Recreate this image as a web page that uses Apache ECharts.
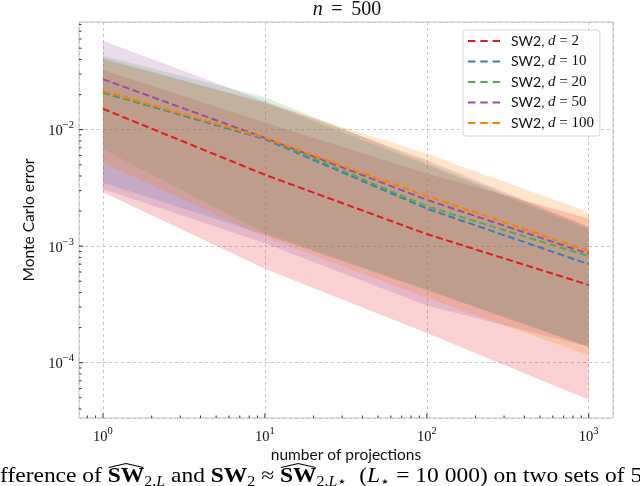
<!DOCTYPE html>
<html><head><meta charset="utf-8">
<script src="https://cdn.jsdelivr.net/npm/echarts@6/dist/echarts.min.js"></script>
<style>html,body{margin:0;padding:0;background:#fff}#c{width:640px;height:486px}</style>
</head><body><div id="c"></div>
<script>
// ---------------- data ----------------
const projections = [1, 10, 100, 1000];
const dims = [2, 10, 20, 50, 100];
const seriesNames = ['d2', 'd10', 'd20', 'd50', 'd100'];
const colors = ['#e41a1c', '#377eb8', '#4daf4a', '#984ea3', '#ff7f00'];

const meanD2   = [0.0151, 0.0041, 0.00127, 0.000464];
const meanD10  = [0.0208, 0.0083, 0.0021, 0.00070];
const meanD20  = [0.0210, 0.0085, 0.0022, 0.00082];
const meanD50  = [0.0271, 0.0085, 0.0025, 0.00086];
const meanD100 = [0.0216, 0.0085, 0.0027, 0.00091];

const lowD2    = [0.0029, 0.00064, 0.00018, 0.000048];
const highD2   = [0.0325, 0.0115, 0.0042, 0.00173];
const lowD10   = [0.0035, 0.00125, 0.00042, 0.000137];
const highD10  = [0.0410, 0.0170, 0.0050, 0.00140];
const lowD20   = [0.0068, 0.0013, 0.00042, 0.000137];
const highD20  = [0.0430, 0.0190, 0.0052, 0.00145];
const lowD50   = [0.0031, 0.00106, 0.00031, 0.000137];
const highD50  = [0.0580, 0.0175, 0.0055, 0.00147];
const lowD100  = [0.0052, 0.0012, 0.00036, 0.000116];
const highD100 = [0.0400, 0.0170, 0.0062, 0.00195];

const xTickLabels = ['10^0', '10^1', '10^2', '10^3'];
const yTickLabels = ['10^-4', '10^-3', '10^-2'];

const means = [meanD2, meanD10, meanD20, meanD50, meanD100];
const lows  = [lowD2, lowD10, lowD20, lowD50, lowD100];
const highs = [highD2, highD10, highD20, highD50, highD100];

// ---------------- axis extents (matplotlib-style margins) ----------------
const xMin = Math.pow(10, -0.148), xMax = Math.pow(10, 3.15);
const yMin = Math.pow(10, -4.475), yMax = Math.pow(10, -1.076);

const SERIF = '"Liberation Serif", "DejaVu Serif", serif';
const SANS = 'Lato, "Open Sans", sans-serif';

function isPow10(v) { const e = Math.log10(v); return Math.abs(e - Math.round(e)) < 1e-6; }
function expLabel(v) {
  const e = Math.round(Math.log10(v));
  return '{b|10}{s|' + (e < 0 ? '\u2212' + (-e) : e) + '}';
}
const tickRich = {
  b: { fontFamily: SERIF, fontSize: 14.5, color: '#111', lineHeight: 19, verticalAlign: 'bottom' },
  s: { fontFamily: SERIF, fontSize: 10.5, color: '#111', lineHeight: 11, verticalAlign: 'top' }
};

// minor / major tick lists (axis decoration)
const xMajor = [], xMinor = [], yMajor = [], yMinor = [];
for (let k = -5; k <= 4; k++) {
  const p = Math.pow(10, k);
  if (p >= xMin && p <= xMax) xMajor.push(p);
  if (p >= yMin && p <= yMax) yMajor.push(p);
  for (let m = 2; m <= 9; m++) {
    const v = m * p;
    if (v >= xMin && v <= xMax) xMinor.push(v);
    if (v >= yMin && v <= yMax) yMinor.push(v);
  }
}
const tickData = [];
xMajor.forEach(v => tickData.push([v, yMin, 0]));
xMinor.forEach(v => tickData.push([v, yMin, 1]));
yMajor.forEach(v => tickData.push([xMin, v, 2]));
yMinor.forEach(v => tickData.push([xMin, v, 3]));

const series = [];
// bands
for (let i = 0; i < 5; i++) {
  const lo = lows[i], hi = highs[i], col = colors[i];
  series.push({
    type: 'custom', name: 'band_' + seriesNames[i], silent: true, z: 2,
    data: projections.map((x, j) => [x, lo[j], hi[j]]),
    encode: { x: 0, y: [1, 2] },
    renderItem: function (params, api) {
      if (params.dataIndex !== 0) return;
      const pts = [];
      for (let j = 0; j < projections.length; j++) pts.push(api.coord([projections[j], hi[j]]));
      for (let j = projections.length - 1; j >= 0; j--) pts.push(api.coord([projections[j], lo[j]]));
      return { type: 'polygon', shape: { points: pts }, style: { fill: col, opacity: 0.2 } };
    }
  });
}
// mean lines
for (let i = 0; i < 5; i++) {
  series.push({
    type: 'line', name: seriesNames[i], z: 5,
    data: projections.map((x, j) => [x, means[i][j]]),
    symbol: 'none', showSymbol: false, silent: true,
    color: colors[i],
    lineStyle: { color: colors[i], width: 2, type: [7, 3.5] }
  });
}
// axis ticks (inside, left + bottom, matplotlib-like)
series.push({
  type: 'custom', name: 'ticks', silent: true, z: 10, clip: false,
  data: tickData, encode: { x: 0, y: 1 },
  renderItem: function (params, api) {
    const p = api.coord([api.value(0), api.value(1)]);
    const k = api.value(2);
    const len = (k === 0 || k === 2) ? 4.5 : 2.5;
    const shape = k < 2 ? { x1: p[0], y1: p[1], x2: p[0], y2: p[1] - len }
                        : { x1: p[0], y1: p[1], x2: p[0] + len, y2: p[1] };
    return { type: 'line', shape: shape, style: { stroke: '#222', lineWidth: 0.9 } };
  }
});

const legendLabels = {};
seriesNames.forEach((n, i) => legendLabels[n] = '{s|SW2, }{i|d}{m| = ' + dims[i] + '}');

// ---------------- caption layout ----------------
const capPieces = [
  ['n', 'fference of '], ['b', 'SW', true], ['sub', '2,'], ['subi', 'L'], ['n', ' and '],
  ['b', 'SW'], ['sub', '2'], ['n', ' \u2248 '], ['b', 'SW', true], ['sub', '2,'], ['subi', 'L'], ['sub', '\u22c6'],
  ['n', '  ('], ['ni', 'L'], ['sub', '\u22c6'], ['n', ' = 10 000) on two sets of 5']
];
const mctx = document.createElement('canvas').getContext('2d');
function fontsFor(s) {
  const ss = s * 0.68;
  return {
    n: s + 'px ' + SERIF, ni: 'italic ' + s + 'px ' + SERIF, b: 'bold ' + s + 'px ' + SERIF,
    sub: ss + 'px ' + SERIF, subi: 'italic ' + ss + 'px ' + SERIF
  };
}
function measureCaption(s) {
  const f = fontsFor(s);
  let x = 0; const hats = [];
  capPieces.forEach(p => { mctx.font = f[p[0]]; const w = mctx.measureText(p[1]).width; if (p[2]) hats.push([x, x + w]); x += w; });
  return { width: x, hats: hats };
}
const capStretch = 1.13;             // CM-like wider glyphs
const capTarget = 642;
const capSize = 19 * capTarget / (measureCaption(19).width * capStretch);
const capInfo = measureCaption(capSize);
const subSize = capSize * 0.68;
let capText = '';
capPieces.forEach(p => { capText += '{' + p[0] + '|' + p[1] + '}'; });
const capY = 477;
const capLH = Math.round(capSize * 1.15);
const graphics = [
  { type: 'text', x: 347, y: 10, style: { text: '{i|n}{e|=}{r|500}', align: 'center', verticalAlign: 'middle',
      rich: { i: { fontFamily: SERIF, fontStyle: 'italic', fontSize: 20, fill: '#111' },
              e: { fontFamily: SERIF, fontSize: 20, fill: '#111', padding: [0, 8.5, 0, 8.5] },
              r: { fontFamily: SERIF, fontSize: 20, fill: '#111' } } } },
  { type: 'text', x: 28.5, y: 220, rotation: Math.PI / 2,
    style: { text: 'Monte Carlo error', font: '15.5px ' + SANS, fill: '#111', align: 'center', verticalAlign: 'middle' } },
  { type: 'text', x: 346, y: 455, style: { text: 'number of projections', font: '15.5px ' + SANS, fill: '#111', align: 'center', verticalAlign: 'middle' } },
  { type: 'text', x: 0, y: capY, scaleX: capStretch, style: { text: capText, verticalAlign: 'middle', align: 'left',
      rich: {
        n: { fontFamily: SERIF, fontSize: capSize, lineHeight: capLH, fill: '#000' },
        ni: { fontFamily: SERIF, fontStyle: 'italic', fontSize: capSize, lineHeight: capLH, fill: '#000' },
        b: { fontFamily: SERIF, fontWeight: 'bold', fontSize: capSize, lineHeight: capLH, fill: '#000' },
        sub: { fontFamily: SERIF, fontSize: subSize, lineHeight: subSize, verticalAlign: 'bottom', fill: '#000' },
        subi: { fontFamily: SERIF, fontStyle: 'italic', fontSize: subSize, lineHeight: subSize, verticalAlign: 'bottom', fill: '#000' }
      } } }
];
capInfo.hats.forEach(h => {
  const a = h[0] * capStretch, b = h[1] * capStretch;
  graphics.push({ type: 'polyline', shape: { points: [[a + 1, capY - 9.5], [(a + b) / 2, capY - 13.5], [b - 1, capY - 9.5]] },
    style: { stroke: '#000', lineWidth: 1.2, fill: null } });
});

const chart = echarts.init(document.getElementById('c'), null, { renderer: 'canvas' });
chart.setOption({
  backgroundColor: '#fff',
  animation: false,
  grid: { left: 79, right: 27, top: 22, bottom: 68, show: true, borderColor: '#c4c4c4', borderWidth: 1, backgroundColor: 'transparent' },
  xAxis: {
    type: 'log', logBase: 10, min: xMin, max: xMax,
    axisLine: { show: false }, axisTick: { show: false },
    splitLine: { show: true, lineStyle: { color: '#bdbdbd', width: 0.8, type: [3, 3] } },
    axisLabel: { margin: 8, formatter: v => isPow10(v) ? expLabel(v) : '', rich: tickRich }
  },
  yAxis: {
    type: 'log', logBase: 10, min: yMin, max: yMax,
    axisLine: { show: false }, axisTick: { show: false },
    splitLine: { show: true, lineStyle: { color: '#bdbdbd', width: 0.8, type: [3, 3] } },
    axisLabel: { margin: 5, formatter: v => isPow10(v) ? expLabel(v) : '', rich: tickRich }
  },
  legend: {
    orient: 'vertical', left: 463, top: 30,
    data: seriesNames,
    icon: 'path://M0,0H7.4V2H0Z M12.3,0H19.7V2H12.3Z M24.6,0H32V2H24.6Z',
    itemWidth: 32, itemHeight: 2, itemGap: 5.5,
    padding: [3.5, 6, 5.5, 5],
    backgroundColor: 'rgba(255,255,255,0.85)', borderColor: '#d6d6d6', borderWidth: 1, borderRadius: 3,
    formatter: n => legendLabels[n],
    textStyle: {
      padding: [0, 0, 0, 6],
      rich: {
        s: { fontFamily: SANS, fontSize: 14, lineHeight: 16, color: '#111' },
        i: { fontFamily: SERIF, fontStyle: 'italic', fontSize: 15, lineHeight: 16, color: '#111' },
        m: { fontFamily: SERIF, fontSize: 15, lineHeight: 16, color: '#111' }
      }
    }
  },
  graphic: graphics,
  series: series
});
</script>
</body></html>
